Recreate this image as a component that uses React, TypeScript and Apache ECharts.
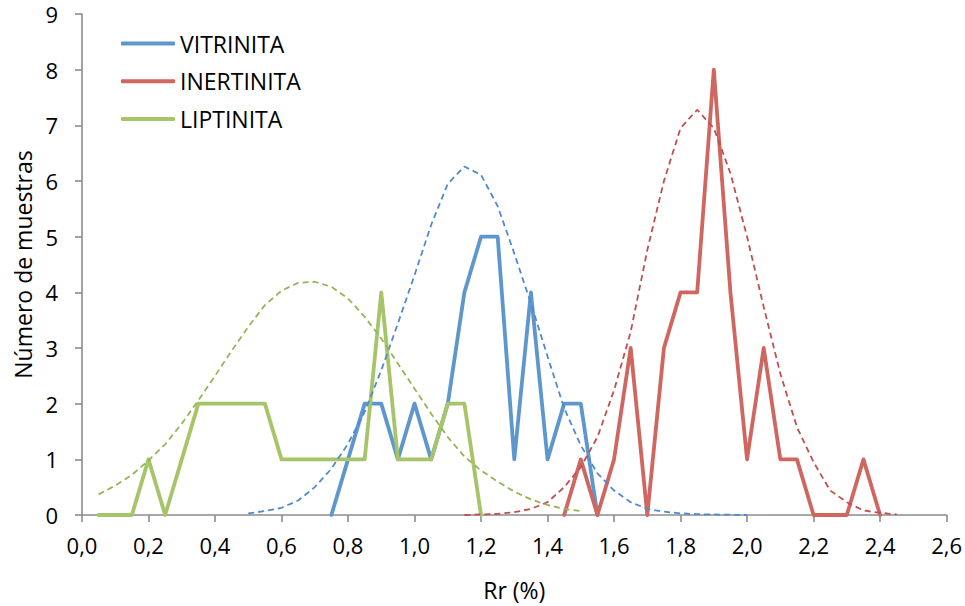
import React, { useEffect, useRef } from "react";
import * as echarts from "echarts";

// Reflectance classes (Rr %) and sample counts per maceral group
const RR_VITRINITA = [0.75, 0.8, 0.85, 0.9, 0.95, 1.0, 1.05, 1.1, 1.15, 1.2, 1.25, 1.3, 1.35, 1.4, 1.45, 1.5, 1.55];
const N_VITRINITA = [0, 1, 2, 2, 1, 2, 1, 2, 4, 5, 5, 1, 4, 1, 2, 2, 0];

const RR_INERTINITA = [1.45, 1.5, 1.55, 1.6, 1.65, 1.7, 1.75, 1.8, 1.85, 1.9, 1.95, 2.0, 2.05, 2.1, 2.15, 2.2, 2.25, 2.3, 2.35, 2.4];
const N_INERTINITA = [0, 1, 0, 1, 3, 0, 3, 4, 4, 8, 4, 1, 3, 1, 1, 0, 0, 0, 1, 0];

const RR_LIPTINITA = [0.05, 0.1, 0.15, 0.2, 0.25, 0.3, 0.35, 0.4, 0.45, 0.5, 0.55, 0.6, 0.65, 0.7, 0.75, 0.8, 0.85, 0.9, 0.95, 1.0, 1.05, 1.1, 1.15, 1.2];
const N_LIPTINITA = [0, 0, 0, 1, 0, 1, 2, 2, 2, 2, 2, 1, 1, 1, 1, 1, 1, 4, 1, 1, 1, 2, 2, 0];

// Fitted distribution curves (dashed)
const RR_FIT_VITRINITA = [0.5, 0.55, 0.6, 0.65, 0.7, 0.75, 0.8, 0.85, 0.9, 0.95, 1.0, 1.05, 1.1, 1.15, 1.2, 1.25, 1.3, 1.35, 1.4, 1.45, 1.5, 1.55, 1.6, 1.65, 1.7, 1.75, 1.8, 1.85, 1.9, 1.95, 2.0];
const FIT_VITRINITA = [0.03, 0.07, 0.13, 0.26, 0.5, 0.83, 1.28, 1.85, 2.6, 3.44, 4.31, 5.21, 5.95, 6.26, 6.11, 5.55, 4.7, 3.8, 2.85, 1.92, 1.25, 0.75, 0.44, 0.23, 0.11, 0.06, 0.03, 0.015, 0.01, 0.005, 0];

const RR_FIT_INERTINITA = [1.15, 1.2, 1.25, 1.3, 1.35, 1.4, 1.45, 1.5, 1.55, 1.6, 1.65, 1.7, 1.75, 1.8, 1.85, 1.9, 1.95, 2.0, 2.05, 2.1, 2.15, 2.2, 2.25, 2.3, 2.35, 2.4, 2.45];
const FIT_INERTINITA = [0, 0.01, 0.02, 0.05, 0.11, 0.23, 0.5, 0.86, 1.4, 2.24, 3.29, 4.76, 6.0, 6.95, 7.28, 6.95, 6.14, 5.0, 3.74, 2.54, 1.58, 0.95, 0.44, 0.23, 0.08, 0.04, 0.01];

const RR_FIT_LIPTINITA = [0.05, 0.1, 0.15, 0.2, 0.25, 0.3, 0.35, 0.4, 0.45, 0.5, 0.55, 0.6, 0.65, 0.7, 0.75, 0.8, 0.85, 0.9, 0.95, 1.0, 1.05, 1.1, 1.15, 1.2, 1.25, 1.3, 1.35, 1.4, 1.45, 1.5];
const FIT_LIPTINITA = [0.37, 0.53, 0.72, 0.98, 1.27, 1.64, 2.06, 2.5, 2.95, 3.38, 3.77, 4.03, 4.17, 4.19, 4.1, 3.89, 3.56, 3.17, 2.72, 2.27, 1.82, 1.4, 1.05, 0.8, 0.6, 0.42, 0.28, 0.18, 0.11, 0.07];

const SERIES_NAMES = ["VITRINITA", "INERTINITA", "LIPTINITA"];

const FONT = "'Open Sans', 'Noto Sans', sans-serif";
const AXIS_GRAY = "#8c8c8c";

const pairs = (xs: number[], ys: number[]) => xs.map((x, i) => [x, ys[i]]);

const solid = (name: string, xs: number[], ys: number[], color: string) => ({
  name,
  type: "line",
  data: pairs(xs, ys),
  symbol: "none",
  smooth: false,
  lineStyle: { color, width: 3.8, cap: "round", join: "round" },
  itemStyle: { color },
  z: 3,
});

const dashed = (xs: number[], ys: number[], color: string) => ({
  name: "",
  type: "line",
  data: pairs(xs, ys),
  symbol: "none",
  smooth: false,
  lineStyle: { color, width: 1.8, type: [6, 4] },
  itemStyle: { color },
  z: 4,
});

export default function App() {
  const ref = useRef<HTMLDivElement>(null);

  useEffect(() => {
    if (!ref.current) return;
    const chart = echarts.init(ref.current, null, { renderer: "svg" });
    chart.setOption({
      animation: false,
      backgroundColor: "#ffffff",
      textStyle: { fontFamily: FONT },
      grid: { left: 82, right: 17, top: 14, bottom: 91, containLabel: false },
      legend: {
        data: SERIES_NAMES,
        orient: "vertical",
        left: 116,
        top: 27,
        itemWidth: 54,
        itemHeight: 4,
        itemGap: 14.7,
        icon: "roundRect",
        textStyle: { fontFamily: FONT, fontSize: 23, color: "#000", lineHeight: 22 },
        selectedMode: false,
      },
      xAxis: {
        type: "value",
        min: 0,
        max: 2.6,
        interval: 0.2,
        name: "Rr (%)",
        nameLocation: "middle",
        nameGap: 63,
        nameTextStyle: { fontFamily: FONT, fontSize: 23, color: "#000" },
        axisLine: { show: true, lineStyle: { color: AXIS_GRAY, width: 1.6 } },
        axisTick: { show: true, inside: false, length: 7, lineStyle: { color: AXIS_GRAY, width: 1.6 } },
        axisLabel: {
          margin: 19,
          fontFamily: FONT,
          fontSize: 22,
          color: "#000",
          formatter: (v: number) => v.toFixed(1).replace(".", ","),
        },
        splitLine: { show: false },
      },
      yAxis: {
        type: "value",
        min: 0,
        max: 9,
        interval: 1,
        name: "Número de muestras",
        nameLocation: "middle",
        nameGap: 46,
        nameTextStyle: { fontFamily: FONT, fontSize: 23, color: "#000" },
        axisLine: { show: true, lineStyle: { color: AXIS_GRAY, width: 1.6 } },
        axisTick: { show: true, inside: false, length: 7, lineStyle: { color: AXIS_GRAY, width: 1.6 } },
        axisLabel: { margin: 24, fontFamily: FONT, fontSize: 22, color: "#000" },
        splitLine: { show: false },
      },
      series: [
        solid(SERIES_NAMES[0], RR_VITRINITA, N_VITRINITA, "#5E97CD"),
        solid(SERIES_NAMES[1], RR_INERTINITA, N_INERTINITA, "#CF665F"),
        solid(SERIES_NAMES[2], RR_LIPTINITA, N_LIPTINITA, "#A6C468"),
        dashed(RR_FIT_VITRINITA, FIT_VITRINITA, "#4F8AD0"),
        dashed(RR_FIT_INERTINITA, FIT_INERTINITA, "#C0504D"),
        dashed(RR_FIT_LIPTINITA, FIT_LIPTINITA, "#94B556"),
      ],
    });
    return () => chart.dispose();
  }, []);

  return (
    <div
      ref={ref}
      style={{ position: "fixed", left: 0, top: 0, width: 965, height: 606, background: "#fff" }}
    />
  );
}
